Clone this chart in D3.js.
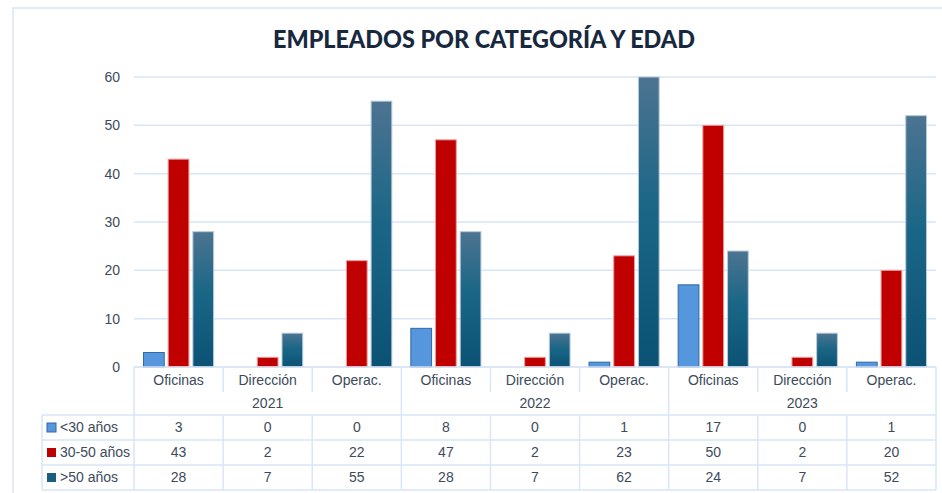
<!DOCTYPE html>
<html>
<head>
<meta charset="utf-8">
<script src="https://cdn.jsdelivr.net/npm/d3@7"></script>
<style>
  body { margin: 0; background: #fff; }
  svg { display: block; font-family: "Liberation Sans", Arial, sans-serif; }
</style>
</head>
<body>
<svg id="chart" width="942" height="493"></svg>
<script>
// datos
var years = ["2021", "2022", "2023"];
var categories = ["Oficinas", "Dirección", "Operac."];
var seriesNames = ["<30 años", "30-50 años", ">50 años"];
var menos30 = [3, 0, 0, 8, 0, 1, 17, 0, 1];
var de30a50 = [43, 2, 22, 47, 2, 23, 50, 2, 20];
var mas50 = [28, 7, 55, 28, 7, 62, 24, 7, 52];
var yTicks = [0, 10, 20, 30, 40, 50, 60];

var seriesValues = [menos30, de30a50, mas50];
var fills = ["#5596dc", "#c00000", "url(#gradDark)"];
var strokes = ["#2f69a6", "#ef9a9a", "#b9cbdb"];
var markerFill = ["#5596dc", "#c00000", "#1a5f80"];
var lineColor = "#d9e6f6";
var textColor = "#3d4a5c";

var svg = d3.select("#chart");

// gradiente barras >50
var grad = svg.append("defs").append("linearGradient")
	.attr("id", "gradDark")
	.attr("x1", 0).attr("y1", 0).attr("x2", 0).attr("y2", 1);
grad.append("stop").attr("offset", "0%").attr("stop-color", "#4c7491");
grad.append("stop").attr("offset", "45%").attr("stop-color", "#1b6686");
grad.append("stop").attr("offset", "100%").attr("stop-color", "#0b5275");

// borde exterior
svg.append("rect")
	.attr("x", 13).attr("y", 8)
	.attr("width", 1000).attr("height", 1000)
	.attr("fill", "none")
	.attr("stroke", lineColor)
	.attr("stroke-width", 1.5);

// titulo
svg.append("text")
	.attr("x", 484).attr("y", 48)
	.attr("text-anchor", "middle")
	.attr("font-family", "Lato, 'Open Sans', sans-serif")
	.attr("font-weight", 900)
	.attr("font-size", 25)
	.attr("fill", "#17283f")
	.attr("textLength", 422)
	.attr("lengthAdjust", "spacingAndGlyphs")
	.text("EMPLEADOS POR CATEGORÍA Y EDAD");

var left = 134, right = 936, legendLeft = 42;
var cols = d3.range(years.length * categories.length);

var x = d3.scaleBand().domain(cols).range([left, right]);
var colW = x.bandwidth();
var xInner = d3.scaleBand().domain(d3.range(seriesNames.length))
	.range([9.5, colW - 9.5]).paddingInner(0.16);

var y = d3.scaleLinear().domain([0, 60]).range([367, 77]).clamp(true);

// rejilla
svg.append("g").selectAll("line")
	.data(yTicks)
	.enter().append("line")
	.attr("x1", left).attr("x2", right)
	.attr("y1", function(d){ return y(d); })
	.attr("y2", function(d){ return y(d); })
	.attr("stroke", lineColor)
	.attr("stroke-width", 1.5);

var yAxis = svg.append("g")
	.attr("transform", "translate(120,0)")
	.call(d3.axisLeft(y).tickValues(yTicks).tickSize(0).tickPadding(0));
yAxis.select(".domain").remove();
yAxis.selectAll("text")
	.attr("font-size", 14)
	.attr("fill", textColor)
	.attr("font-family", "'Liberation Sans', Arial, sans-serif");

// barras (los ceros no se dibujan)
seriesValues.forEach(function(vals, s) {
	var pts = vals.map(function(v, i){ return {v: v, i: i}; })
		.filter(function(d){ return d.v > 0; });
	svg.append("g").selectAll("rect")
		.data(pts)
		.enter().append("rect")
		.attr("x", function(d){ return x(d.i) + xInner(s); })
		.attr("y", function(d){ return y(d.v); })
		.attr("width", xInner.bandwidth())
		.attr("height", function(d){ return y(0) - y(d.v); })
		.attr("fill", fills[s])
		.attr("stroke", strokes[s])
		.attr("stroke-width", 1);
});

// tabla
var rowCat = [367, 392], rowYear = [392, 415];
var rowData = [415, 440, 465, 490];
var t = svg.append("g").attr("stroke", lineColor).attr("stroke-width", 1.5);

t.append("line").attr("x1", left).attr("x2", right).attr("y1", rowCat[0]).attr("y2", rowCat[0]);
rowData.forEach(function(yy){
	t.append("line").attr("x1", legendLeft).attr("x2", right).attr("y1", yy).attr("y2", yy);
});
t.append("line").attr("x1", legendLeft).attr("x2", legendLeft).attr("y1", rowData[0]).attr("y2", rowData[3]);
cols.concat([cols.length]).forEach(function(c){
	var xx = c < cols.length ? x(c) : right;
	var groupEdge = (c % categories.length === 0);
	t.append("line")
		.attr("x1", xx).attr("x2", xx)
		.attr("y1", rowCat[0])
		.attr("y2", groupEdge ? rowData[3] : rowCat[1]);
	if (!groupEdge) {
		t.append("line").attr("x1", xx).attr("x2", xx)
			.attr("y1", rowData[0]).attr("y2", rowData[3]);
	}
});

function cellText(xx, yy, txt, anchor) {
	svg.append("text")
		.attr("x", xx).attr("y", yy)
		.attr("dy", "0.35em")
		.attr("text-anchor", anchor || "middle")
		.attr("font-size", 14)
		.attr("fill", textColor)
		.text(txt);
}

cols.forEach(function(c){
	cellText(x(c) + colW / 2, (rowCat[0] + rowCat[1]) / 2 + 1, categories[c % categories.length]);
});
years.forEach(function(yr, g){
	var x0 = x(g * categories.length), x1 = x0 + colW * categories.length;
	cellText((x0 + x1) / 2, (rowYear[0] + rowYear[1]) / 2, yr);
});
seriesValues.forEach(function(vals, s){
	var yy = (rowData[s] + rowData[s + 1]) / 2;
	svg.append("rect")
		.attr("x", 47).attr("y", yy - 4.5)
		.attr("width", 9).attr("height", 9)
		.attr("fill", markerFill[s])
		.attr("stroke", s === 0 ? "#2f69a6" : "none");
	cellText(60, yy, seriesNames[s], "start");
	vals.forEach(function(v, i){
		cellText(x(i) + colW / 2, yy, v);
	});
});
</script>
</body>
</html>
